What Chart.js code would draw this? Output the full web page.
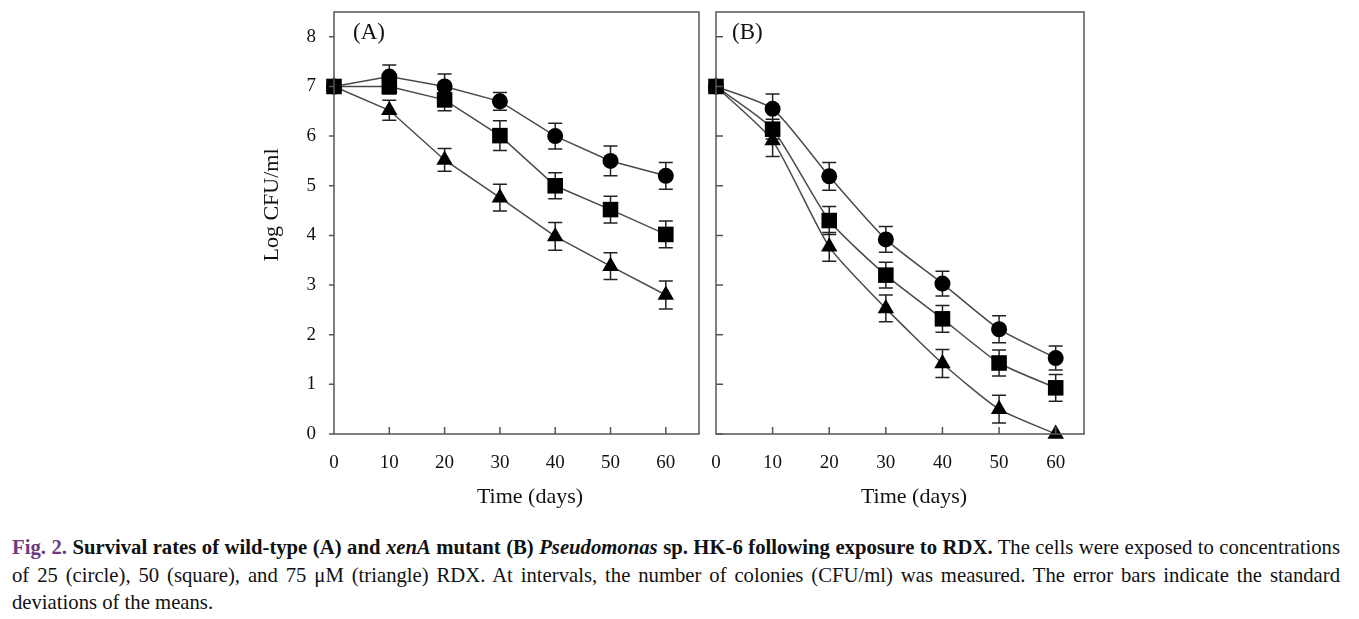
<!DOCTYPE html>
<html>
<head>
  <meta charset="utf-8">
  <title>Fig. 2 Survival rates</title>
  <script src="https://cdn.jsdelivr.net/npm/chart.js"></script>
  <style>
    body { margin: 0; background: #fff; font-family: "Liberation Serif", serif; }
    #wrap { position: relative; width: 1359px; height: 619px; }
    .panel { position: absolute; top: 0; height: 520px; }
    #panelA { left: 250px; width: 460px; }
    #panelB { left: 705px; width: 390px; }
    #caption { position: absolute; left: 12px; top: 534px; font-size: 20.7px; line-height: 27.5px; color: #111; }
    #caption .j { width: 1328px; text-align: justify; text-align-last: justify; white-space: nowrap; }
    #caption .fig { color: #6b3b80; font-weight: bold; }
  </style>
</head>
<body>
<div id="wrap">
  <div class="panel" id="panelA"><canvas id="chartA"></canvas></div>
  <div class="panel" id="panelB"><canvas id="chartB"></canvas></div>
  <div id="caption">
    <div class="j"><span class="fig">Fig. 2.</span> <b>Survival rates of wild-type (A) and <i>xenA</i> mutant (B) <i>Pseudomonas</i> sp. HK-6 following exposure to RDX.</b> The cells were exposed to concentrations</div>
    <div class="j">of 25 (circle), 50 (square), and 75 μM (triangle) RDX. At intervals, the number of colonies (CFU/ml) was measured. The error bars indicate the standard</div>
    <div>deviations of the means.</div>
  </div>
</div>

<script>
  // data
  const days = [0, 10, 20, 30, 40, 50, 60];
  const xTickValues = [0, 10, 20, 30, 40, 50, 60];
  const yTickValues = [0, 1, 2, 3, 4, 5, 6, 7, 8];

  // (A) wild-type
  const aCircle    = [7, 7.2, 7.0, 6.7, 6.0, 5.5, 5.2];
  const aCircleErr = [0, 0.23, 0.25, 0.18, 0.26, 0.3, 0.27];
  const aSquare    = [7, 7.0, 6.73, 6.01, 5.0, 4.52, 4.02];
  const aSquareErr = [0, 0.15, 0.22, 0.3, 0.26, 0.27, 0.27];
  const aTri       = [7, 6.52, 5.52, 4.76, 3.98, 3.38, 2.8];
  const aTriErr    = [0, 0.2, 0.23, 0.27, 0.28, 0.27, 0.28];

  // (B) xenA mutant
  const bCircle    = [7, 6.55, 5.19, 3.92, 3.03, 2.11, 1.53];
  const bCircleErr = [0, 0.3, 0.28, 0.26, 0.25, 0.27, 0.24];
  const bSquare    = [7, 6.14, 4.3, 3.2, 2.32, 1.43, 0.93];
  const bSquareErr = [0, 0.2, 0.28, 0.26, 0.27, 0.26, 0.27];
  const bTri       = [7, 5.91, 3.77, 2.53, 1.42, 0.5, 0];
  const bTriErr    = [0, 0.32, 0.29, 0.27, 0.28, 0.28, 0];

  const LINE = '#4a4a4a';
  const BOX = '#555';
  const tickFont = { family: 'Liberation Serif', size: 19 };

  function series(vals, errs, style, radius, tension) {
    return {
      data: days.map((d, i) => ({ x: d, y: vals[i] })),
      err: errs,
      borderColor: LINE,
      borderWidth: 1.5,
      pointStyle: style,
      pointRadius: radius,
      pointBackgroundColor: '#000',
      pointBorderColor: '#000',
      pointBorderWidth: 0,
      tension: tension,
      clip: false
    };
  }

  // error bars, box and tick marks drawn with the chart's scales
  const extras = {
    id: 'extras',
    beforeDatasetsDraw(chart) {
      const ctx = chart.ctx, xs = chart.scales.x, ys = chart.scales.y;
      ctx.save();
      ctx.strokeStyle = '#222';
      ctx.lineWidth = 1.5;
      chart.data.datasets.forEach(ds => {
        ds.data.forEach((p, i) => {
          const e = ds.err[i];
          if (!e) return;
          const px = xs.getPixelForValue(p.x);
          const top = ys.getPixelForValue(p.y + e), bot = ys.getPixelForValue(p.y - e);
          ctx.beginPath();
          ctx.moveTo(px, top); ctx.lineTo(px, bot);
          ctx.moveTo(px - 7, top); ctx.lineTo(px + 7, top);
          ctx.moveTo(px - 7, bot); ctx.lineTo(px + 7, bot);
          ctx.stroke();
        });
      });
      ctx.restore();
    },
    afterDraw(chart) {
      const o = chart.options.plugins.extras;
      const ctx = chart.ctx, a = chart.chartArea, xs = chart.scales.x, ys = chart.scales.y;
      ctx.save();
      ctx.strokeStyle = BOX;
      ctx.lineWidth = 1.5;
      ctx.strokeRect(a.left, a.top, a.right - a.left, a.bottom - a.top);
      ctx.beginPath();
      yTickValues.forEach(v => {
        const py = ys.getPixelForValue(v);
        ctx.moveTo(a.left, py); ctx.lineTo(a.left + o.yTick, py);
      });
      xTickValues.forEach(v => {
        if (v === 0) return;
        const px = xs.getPixelForValue(v);
        ctx.moveTo(px, a.bottom); ctx.lineTo(px, a.bottom - 7);
      });
      ctx.stroke();
      ctx.fillStyle = '#111';
      ctx.font = '23px "Liberation Serif"';
      ctx.textAlign = 'left';
      ctx.textBaseline = 'middle';
      ctx.fillText(o.label, o.labelX, 33);
      ctx.font = '22px "Liberation Serif"';
      ctx.textAlign = 'center';
      ctx.fillText('Time (days)', o.xTitleX, 497);
      if (o.yTitle) {
        ctx.translate(o.yTitleX, 205);
        ctx.rotate(-Math.PI / 2);
        ctx.fillText(o.yTitle, 0, 0);
      }
      ctx.restore();
    }
  };

  function makeChart(id, sets, xMax, opts) {
    return new Chart(document.getElementById(id), {
      type: 'line',
      data: { datasets: sets },
      plugins: [extras],
      options: {
        responsive: true,
        maintainAspectRatio: false,
        animation: false,
        layout: { padding: { top: 12, right: opts.padRight, left: 0, bottom: 0 } },
        plugins: {
          legend: { display: false },
          tooltip: { enabled: false },
          extras: opts
        },
        scales: {
          x: {
            type: 'linear', min: 0, max: xMax,
            grid: { display: false, drawTicks: false },
            border: { display: false },
            afterBuildTicks: s => { s.ticks = xTickValues.map(v => ({ value: v })); },
            afterFit: s => { s.height = 86; s.paddingLeft = 0; s.paddingRight = 0; },
            ticks: { padding: 18, color: '#111', font: tickFont, maxRotation: 0, autoSkip: false }
          },
          y: {
            min: 0, max: 8.5,
            grid: { display: false, drawTicks: false },
            border: { display: false },
            afterBuildTicks: s => { s.ticks = yTickValues.map(v => ({ value: v })); },
            afterFit: s => { s.width = opts.yWidth; s.paddingTop = 0; s.paddingBottom = 0; },
            ticks: { display: opts.yLabels, padding: 18, color: '#111', font: tickFont }
          }
        }
      }
    });
  }

  makeChart('chartA', [
    series(aCircle, aCircleErr, 'circle', 8, 0),
    series(aSquare, aSquareErr, 'rect', 11, 0),
    series(aTri, aTriErr, 'triangle', 9.5, 0)
  ], 66, { padRight: 7, yWidth: 84, yLabels: true, yTick: -5, label: '(A)', labelX: 103, xTitleX: 280, yTitle: 'Log CFU/ml', yTitleX: 22 });

  makeChart('chartB', [
    series(bCircle, bCircleErr, 'circle', 8, 0.2),
    series(bSquare, bSquareErr, 'rect', 11, 0.2),
    series(bTri, bTriErr, 'triangle', 9.5, 0.2)
  ], 65, { padRight: 9, yWidth: 9, yLabels: false, yTick: 7, label: '(B)', labelX: 27, xTitleX: 209, yTitle: null });
</script>
</body>
</html>
